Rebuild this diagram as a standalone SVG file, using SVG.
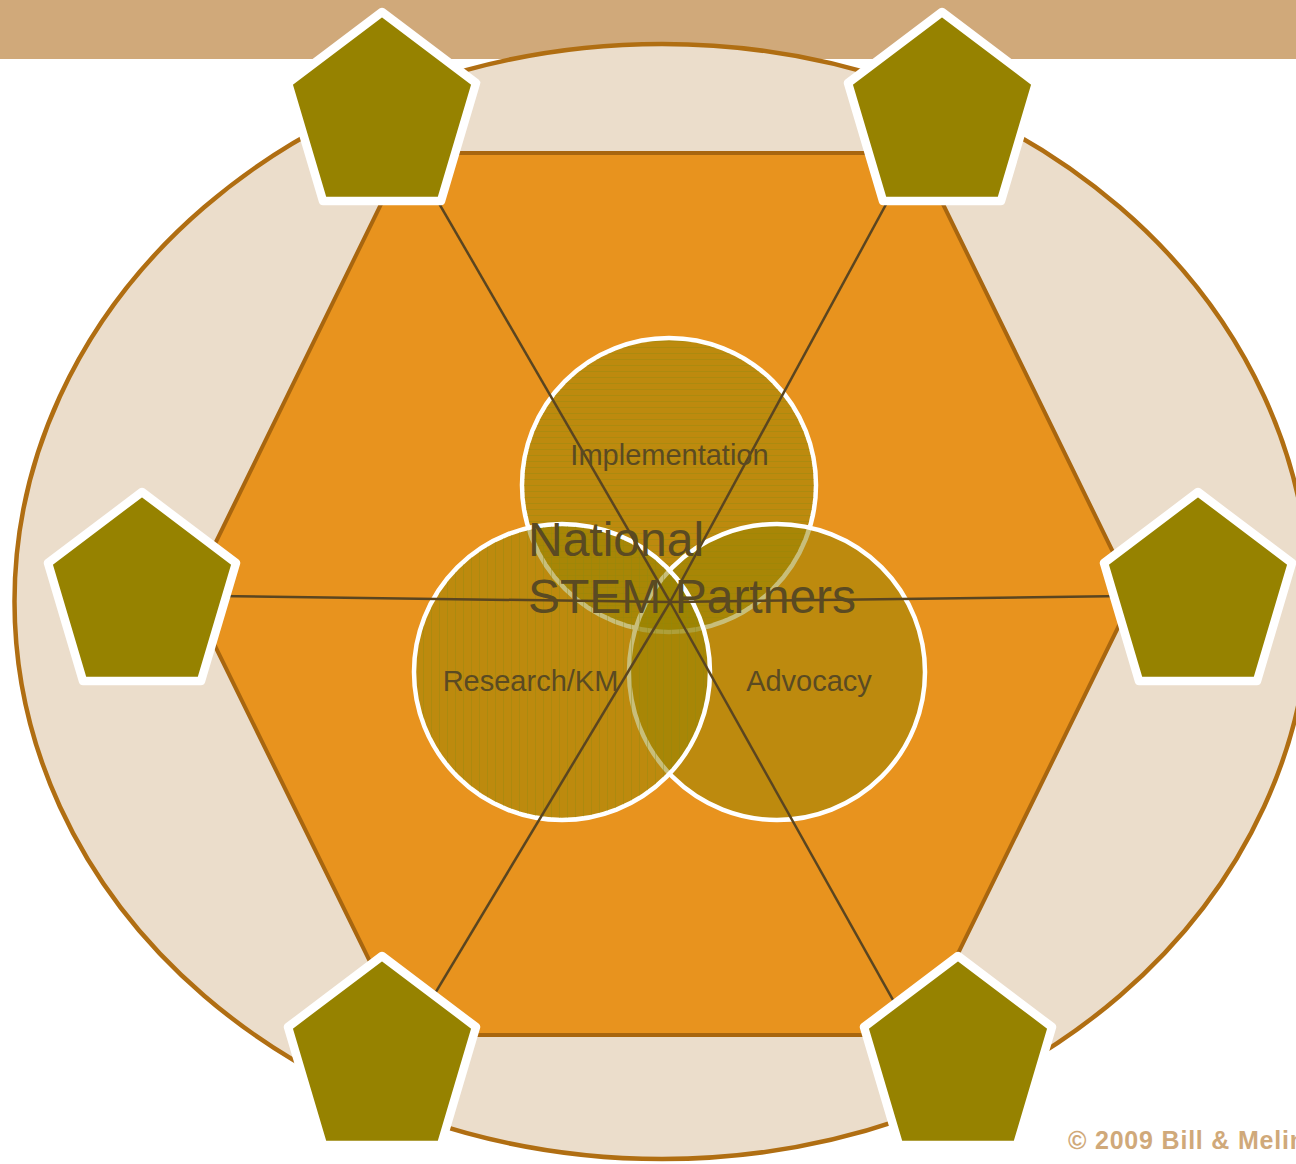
<svg xmlns="http://www.w3.org/2000/svg" xmlns:xlink="http://www.w3.org/1999/xlink" width="1296" height="1164" viewBox="0 0 1296 1164">
  <style>
    .pent { fill: #968200; stroke: #ffffff; stroke-width: 8.5; stroke-linejoin: round; }
    .venn { fill: #968200; fill-opacity: 0.52; stroke: #ffffff; stroke-width: 4.5; }
    .spoke { stroke: #5A4520; stroke-width: 2.5; fill: none; }
    .lbl { font-family: "Liberation Sans", Arial, sans-serif; fill: #5A4A22; }
    .copy { font-family: "Liberation Sans", Arial, sans-serif; font-weight: bold; fill: #D0A97A; }
  </style>
  <defs>
    <polygon id="pent" points="0,0 94,71 59,189 -59,189 -94,71"/>
    <pattern id="hstripe" width="10" height="6" patternUnits="userSpaceOnUse">
      <line x1="0" y1="5.5" x2="10" y2="5.5" stroke="#8C8A10" stroke-width="1" stroke-opacity="0.35"/>
    </pattern>
    <pattern id="vstripe" width="8" height="10" patternUnits="userSpaceOnUse">
      <line x1="7.5" y1="0" x2="7.5" y2="10" stroke="#8C8A10" stroke-width="1" stroke-opacity="0.35"/>
    </pattern>
  </defs>

  <rect id="topbar" x="0" y="0" width="1296" height="59" fill="#D0A97A"/>

  <g id="outer-ellipse">
    <ellipse cx="662" cy="601.5" rx="647.5" ry="557.5" fill="#EBDDCB" stroke="#B06E12" stroke-width="4.5"/>
  </g>

  <g id="hexagon">
    <polygon points="406,153 918,153 1134,595 918,1035 406,1035 190,595" fill="#E8931E" stroke="#A8660F" stroke-width="4"/>
  </g>

  <g id="circle-implementation">
    <circle class="venn" cx="669" cy="485" r="147"/>
    <circle cx="669" cy="485" r="145" fill="url(#hstripe)"/>
  </g>
  <g id="circle-advocacy">
    <circle class="venn" cx="777" cy="672" r="148"/>
  </g>
  <g id="circle-research">
    <circle class="venn" cx="562" cy="672" r="148"/>
    <circle cx="562" cy="672" r="146" fill="url(#vstripe)"/>
  </g>

  <g id="connectors">
    <line class="spoke" x1="670" y1="602" x2="382" y2="105"/>
    <line class="spoke" x1="670" y1="602" x2="940" y2="105"/>
    <line class="spoke" x1="670" y1="602" x2="142" y2="595"/>
    <line class="spoke" x1="670" y1="602" x2="1198" y2="595"/>
    <line class="spoke" x1="670" y1="602" x2="401" y2="1050"/>
    <line class="spoke" x1="670" y1="602" x2="921" y2="1050"/>
  </g>

  <g id="labels">
    <text class="lbl" x="669.5" y="465" font-size="29" text-anchor="middle">Implementation</text>
    <text class="lbl" x="530.5" y="691" font-size="29" text-anchor="middle">Research/KM</text>
    <text class="lbl" x="809" y="691" font-size="29" text-anchor="middle">Advocacy</text>
  </g>

  <g id="center-title">
    <text class="lbl" x="528" y="556" font-size="48">National</text>
    <text class="lbl" x="528" y="613" font-size="48">STEM Partners</text>
  </g>

  <g id="pentagon-top-left"><use xlink:href="#pent" class="pent" x="382" y="12"/></g>
  <g id="pentagon-top-right"><use xlink:href="#pent" class="pent" x="942" y="12"/></g>
  <g id="pentagon-left"><use xlink:href="#pent" class="pent" x="142" y="492"/></g>
  <g id="pentagon-right"><use xlink:href="#pent" class="pent" x="1198" y="492"/></g>
  <g id="pentagon-bottom-left"><use xlink:href="#pent" class="pent" x="382" y="956"/></g>
  <g id="pentagon-bottom-right"><use xlink:href="#pent" class="pent" x="958" y="956"/></g>

  <text class="copy" x="1068" y="1149" font-size="25" letter-spacing="0.8">© 2009 Bill &amp; Melin</text>
</svg>
